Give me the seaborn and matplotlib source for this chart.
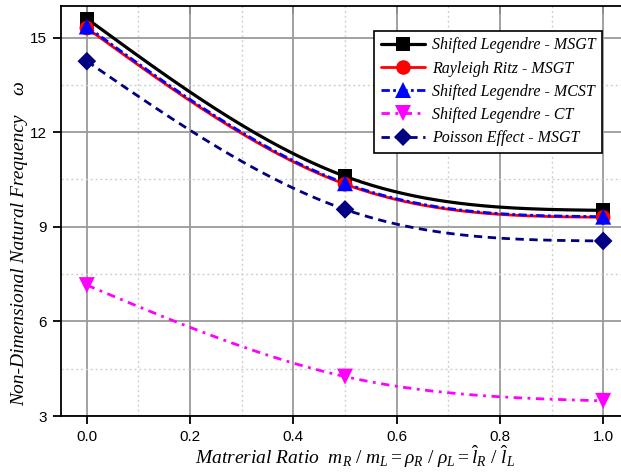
import numpy as np
import pandas as pd
import matplotlib
matplotlib.use("Agg")
import matplotlib.pyplot as plt
from matplotlib.lines import Line2D
from matplotlib.ticker import MultipleLocator, FormatStrFormatter
import seaborn as sns

# material ratio positions
ratio = [0.0, 0.5, 1.0]

# non-dimensional natural frequency for each model
legendre_msgt = [15.6, 10.6, 9.52]
ritz_msgt = [15.3, 10.35, 9.3]
legendre_mcst = [15.35, 10.38, 9.32]
legendre_ct = [7.15, 4.25, 3.48]
poisson_msgt = [14.25, 9.55, 8.55]

series_names = [
    "Shifted Legendre - MSGT",
    "Rayleigh Ritz - MSGT",
    "Shifted Legendre - MCST",
    "Shifted Legendre - CT",
    "Poisson Effect - MSGT",
]
series_values = [legendre_msgt, ritz_msgt, legendre_mcst, legendre_ct, poisson_msgt]

styles = {
    "Shifted Legendre - MSGT": dict(color="black", ls="-", lw=2.3, marker="s", ms=10),
    "Rayleigh Ritz - MSGT": dict(color="#ff0000", ls="-", lw=2.0, marker="o", ms=10.5),
    "Shifted Legendre - MCST": dict(color="#0000ff", ls=(0, (3, 1.2, 1, 1.2)), lw=2.0, marker="^", ms=11.5),
    "Shifted Legendre - CT": dict(color="#ff00ff", ls=(0, (3, 2, 1, 2)), lw=2.0, marker="v", ms=11.5),
    "Poisson Effect - MSGT": dict(color="#000080", ls=(0, (3, 2)), lw=2.0, marker="D", ms=9.5),
}


def natural_spline(x, y, n=200):
    """Natural cubic spline through the given points."""
    x = np.asarray(x, float)
    y = np.asarray(y, float)
    k = len(x)
    h = np.diff(x)
    A = np.zeros((k, k))
    r = np.zeros(k)
    A[0, 0] = A[-1, -1] = 1.0
    for i in range(1, k - 1):
        A[i, i - 1] = h[i - 1]
        A[i, i] = 2 * (h[i - 1] + h[i])
        A[i, i + 1] = h[i]
        r[i] = 6 * ((y[i + 1] - y[i]) / h[i] - (y[i] - y[i - 1]) / h[i - 1])
    M = np.linalg.solve(A, r)
    xs = np.linspace(x[0], x[-1], n)
    idx = np.clip(np.searchsorted(x, xs, side="right") - 1, 0, k - 2)
    x0, x1 = x[idx], x[idx + 1]
    hh = x1 - x0
    t0, t1 = x1 - xs, xs - x0
    ys = (M[idx] * t0 ** 3 + M[idx + 1] * t1 ** 3) / (6 * hh) \
        + (y[idx] / hh - M[idx] * hh / 6) * t0 \
        + (y[idx + 1] / hh - M[idx + 1] * hh / 6) * t1
    return xs, ys


sns.set_style("white")
plt.rcParams["font.family"] = ["Liberation Sans", "DejaVu Sans"]
plt.rcParams["mathtext.fontset"] = "custom"
plt.rcParams["mathtext.rm"] = "Liberation Serif"
plt.rcParams["mathtext.it"] = "Liberation Serif:italic"
plt.rcParams["text.color"] = "black"
plt.rcParams["axes.labelcolor"] = "black"
plt.rcParams["xtick.color"] = "black"
plt.rcParams["ytick.color"] = "black"

fig = plt.figure(figsize=(6.21, 4.76), dpi=100)
ax = fig.add_axes([61 / 621, 60 / 476, 568 / 621, 410 / 476])

# smooth connecting curves
for name, vals in zip(series_names, series_values):
    st = styles[name]
    xs, ys = natural_spline(ratio, vals)
    curve = pd.DataFrame({"x": xs, "y": ys})
    sns.lineplot(data=curve, x="x", y="y", ax=ax, color=st["color"],
                 linestyle=st["ls"], linewidth=st["lw"], legend=False,
                 zorder=3, estimator=None, sort=False)

# markers at the computed points
for name, vals in zip(series_names, series_values):
    st = styles[name]
    pts = pd.DataFrame({"x": ratio, "y": vals})
    sns.scatterplot(data=pts, x="x", y="y", ax=ax, color=st["color"],
                    marker=st["marker"], s=st["ms"] ** 2, edgecolor="none",
                    legend=False, zorder=4)

ax.set_xlim(-0.05, 1.05)
ax.set_ylim(3, 16)
ax.xaxis.set_major_locator(MultipleLocator(0.2))
ax.xaxis.set_minor_locator(MultipleLocator(0.1))
ax.yaxis.set_major_locator(MultipleLocator(3))
ax.yaxis.set_minor_locator(MultipleLocator(1.5))
ax.xaxis.set_major_formatter(FormatStrFormatter("%.1f"))

ax.grid(which="major", color="#9a9a9a", linewidth=1.3, linestyle="-", zorder=0)
ax.grid(which="minor", color="#d0d0d0", linewidth=1.0, linestyle=(0, (1.5, 2)), zorder=0)
ax.set_axisbelow(True)

for side in ["left", "bottom", "top"]:
    ax.spines[side].set_visible(True)
    ax.spines[side].set_color("black")
    ax.spines[side].set_linewidth(1.3)
ax.spines["right"].set_visible(False)

ax.tick_params(axis="both", which="major", direction="out", length=6, width=1.3,
               color="black", labelcolor="black", labelsize=11, pad=4,
               bottom=True, left=True)
ax.tick_params(which="minor", length=0)
top = ax.secondary_xaxis("top")
top.xaxis.set_major_locator(MultipleLocator(0.2))
top.tick_params(direction="in", length=6, width=1.3, labeltop=False)
top.spines["top"].set_visible(False)

ax.set_xlabel(r"Matrerial Ratio  $m_R\ /\ m_L=\rho_R\ /\ \rho_L=\hat{l}_R\ /\ \hat{l}_L$",
              family="Liberation Serif", style="italic", fontsize=14)
ax.xaxis.set_label_coords(0.5176, -0.068)
ax.set_ylabel("Non-Dimensional Natural Frequency    \u03c9",
              family="Liberation Serif", style="italic", fontsize=14)
ax.yaxis.set_label_coords(-0.058, 0.42)

handles = []
for name in series_names:
    st = styles[name]
    handles.append(Line2D([0], [0], color=st["color"], linestyle=st["ls"],
                          linewidth=st["lw"], marker=st["marker"],
                          markersize=st["ms"], markeredgewidth=0))
leg = ax.legend(handles, series_names, loc="upper right",
                bbox_to_anchor=(0.952, 0.939), borderaxespad=0,
                prop={"family": "Liberation Serif", "style": "italic", "size": 11.5},
                handlelength=2.75, handletextpad=0.45, labelspacing=0.45,
                borderpad=0.4, fancybox=False, framealpha=1, edgecolor="black")
leg.get_frame().set_linewidth(1.2)
leg.set_zorder(10)

fig.savefig("out.png", dpi=100)
